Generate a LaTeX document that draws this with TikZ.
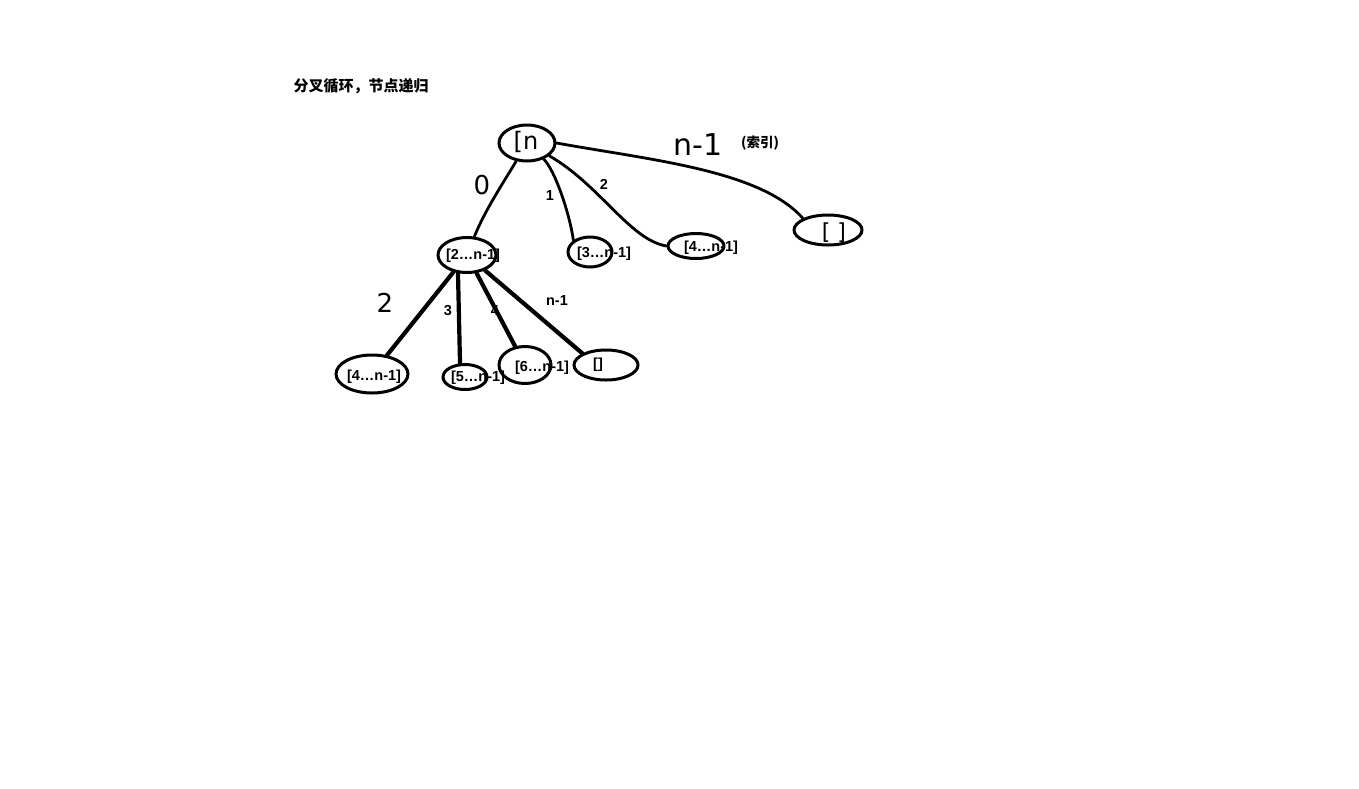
\documentclass[tikz,border=0pt]{standalone}
\usepackage{fontspec}
\setmainfont{Liberation Sans}
\newfontfamily\cjkfont{Noto Sans CJK SC}
\newfontfamily\handfont{DejaVu Sans}
\usetikzlibrary{shapes.geometric}

\tikzset{
  blob/.style={draw, ellipse, line width=3pt, inner sep=0pt},
  lbl/.style={font=\bfseries\fontsize{14.5}{14.5}\selectfont, inner sep=0pt},
  big/.style={font=\handfont\fontsize{26}{26}\selectfont, inner sep=0pt},
  branch/.style={line width=2.8pt, line cap=round},
  subbranch/.style={line width=4.2pt, line cap=round}
}

\begin{document}
\begin{tikzpicture}[x=1pt, y=-1pt]
\useasboundingbox (0,0) rectangle (1359,788);

\node[anchor=west, font=\cjkfont\bfseries\fontsize{15}{15}\selectfont] (title) at (290,86) {分叉循环，节点递归};

% root
\node[blob, minimum width=56pt, minimum height=36pt] (root) at (527,143) {};
\node[font=\handfont\fontsize{24}{24}\selectfont, inner sep=0pt] (rootlbl) at (526,142) {[n};

% first level
\node[blob, minimum width=58pt, minimum height=35pt] (a) at (467,255) {};
\node[lbl] (alabel) at (473,256) {[2…n-1]};
\node[blob, minimum width=44pt, minimum height=30pt] (b) at (590,252) {};
\node[lbl] (blabel) at (604,254) {[3…n-1]};
\node[blob, minimum width=56pt, minimum height=25pt] (c) at (696,246) {};
\node[lbl] (clabel) at (711,248) {[4…n-1]};
\node[blob, minimum width=68pt, minimum height=30pt] (d) at (828,230) {};
\node[font=\handfont\fontsize{22}{22}\selectfont, inner sep=0pt] (dlabel) at (834,233) {[ ]};

\draw[branch] (root) .. controls (505,180) and (485,210) .. (a);
\draw[branch] (root) .. controls (555,170) and (570,215) .. (b.north west);
\draw[branch] (root) .. controls (600,185) and (630,240) .. (c.west);
\draw[branch] (root.east) .. controls (650,160) and (760,170) .. (d.north west);

\node[big] (e0) at (482,185) {0};
\node[lbl] (e1) at (550,196) {1};
\node[lbl] (e2) at (604,184) {2};
\node[big, font=\handfont\fontsize{30}{30}\selectfont] (en) at (698,145) {n-1};
\node[lbl, font=\cjkfont\bfseries\fontsize{13.5}{13.5}\selectfont] (idx) at (760,143) {(索引)};

% second level
\node[blob, minimum width=72pt, minimum height=38pt] (e) at (372,374) {};
\node[lbl] (elabel) at (374,377) {[4…n-1]};
\node[blob, minimum width=44pt, minimum height=25pt] (f) at (465,377) {};
\node[lbl] (flabel) at (478,378) {[5…n-1]};
\node[blob, minimum width=52pt, minimum height=37pt] (g) at (525,365) {};
\node[lbl] (glabel) at (542,368) {[6…n-1]};
\node[blob, minimum width=64pt, minimum height=30pt] (h) at (606,365) {};
\node[lbl] (hlabel) at (598,365) {[]};

\draw[subbranch] (a) -- (e);
\draw[subbranch] ([xshift=-9pt]a.south) -- ([xshift=-5pt]f.north);
\draw[subbranch] (a) -- (g);
\draw[subbranch] (a) -- (h.north west);

\node[big] (l2) at (385,303) {2};
\node[lbl] (l3) at (448,311) {3};
\node[lbl] (l4) at (495,311) {4};
\node[lbl] (ln) at (557,301) {n-1};

\end{tikzpicture}
\end{document}
